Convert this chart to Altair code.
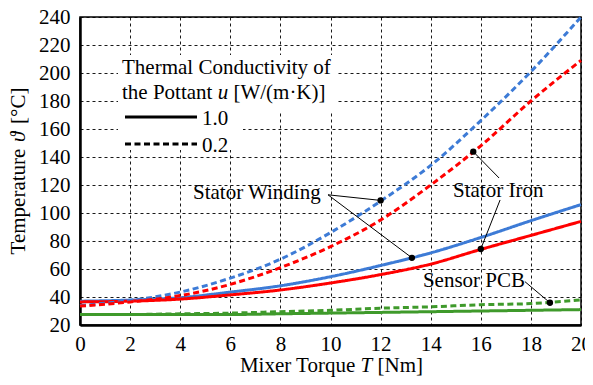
import altair as alt
import pandas as pd

FONT = "Liberation Serif"
FS = 21

torque = [0, 2, 4, 6, 8, 10, 12, 14, 16, 18, 20]
winding_u02 = [34, 37.5, 43.5, 53.5, 67, 86, 108.5, 134, 166, 201, 240]
iron_u02 = [33.5, 36.5, 41, 49, 61, 76, 95, 120, 148, 180, 209]
winding_u10 = [37, 37.8, 39.5, 43.5, 48, 54.5, 62.5, 71.5, 82.5, 94.5, 106]
iron_u10 = [36.5, 37, 38.5, 41.5, 45, 50, 56, 63.5, 74, 84, 94]
pcb_u02 = [27.5, 27.5, 28, 28.5, 29.5, 30.5, 32, 33, 34.5, 35.3, 38]
pcb_u10 = [27.5, 27.5, 27.5, 27.5, 28, 28.5, 29, 29.5, 30, 30.5, 31]

components = ["Stator Winding", "Stator Iron", "Sensor PCB"]
comp_colors = ["#3D7BD6", "#FF0000", "#3F9A2B"]

series = [
    ("Stator Winding", "1.0", winding_u10),
    ("Stator Iron", "1.0", iron_u10),
    ("Sensor PCB", "1.0", pcb_u10),
    ("Stator Winding", "0.2", winding_u02),
    ("Stator Iron", "0.2", iron_u02),
    ("Sensor PCB", "0.2", pcb_u02),
]
rows = []
for comp, u, vals in series:
    for t, v in zip(torque, vals):
        rows.append({"T": t, "temp": v, "comp": comp, "u": u, "series": comp + u})
df = pd.DataFrame(rows)

# annotation points / texts (data coordinates)
dot_T = [12.0, 13.25, 15.70, 16.0, 18.76]
dot_temp = [109, 68, 143.8, 74.3, 35.9]
lead_T = [9.9, 9.9, 16.73, 16.77, 17.76]
lead_temp = [113, 113, 125, 109.3, 51]
ann_text = ["Stator Winding", "Stator Iron", "Sensor PCB"]
ann_T = [4.51, 14.89, 13.69]
ann_temp = [110, 111.6, 46.9]

x_ticks = list(range(0, 21, 2))
y_ticks = list(range(20, 241, 20))

xs = alt.Scale(domain=[0, 20], nice=False)
ys = alt.Scale(domain=[20, 240], nice=False)

x_axis = alt.Axis(values=x_ticks, title=None, grid=True, labelPadding=8,
                  labelFont=FONT, labelFontSize=FS, labelOverlap=False)
y_axis = alt.Axis(values=y_ticks, title=None, grid=True, labelPadding=10,
                  labelFont=FONT, labelFontSize=FS, labelOverlap=False)

W, H = 501, 308


def X(field):
    return alt.X(field, scale=xs, axis=x_axis)


def Y(field):
    return alt.Y(field, scale=ys, axis=y_axis)


lines = alt.Chart(df).mark_line(strokeWidth=3, interpolate="monotone").encode(
    x=X("T:Q"),
    y=Y("temp:Q"),
    color=alt.Color("comp:N", scale=alt.Scale(domain=components, range=comp_colors), legend=None),
    strokeDash=alt.StrokeDash("u:N", scale=alt.Scale(domain=["1.0", "0.2"], range=[[1, 0], [6, 3.5]]),
                              legend=None),
    detail="series:N",
)

dots = alt.Chart(pd.DataFrame({"T": dot_T, "temp": dot_temp})).mark_circle(
    size=40, color="black", opacity=1).encode(x=X("T:Q"), y=Y("temp:Q"))

leads = alt.Chart(pd.DataFrame({"T": lead_T, "temp": lead_temp, "T2": dot_T, "temp2": dot_temp})).mark_rule(
    color="black", strokeWidth=1).encode(x=X("T:Q"), y=Y("temp:Q"), x2="T2:Q", y2="temp2:Q")

ann = alt.Chart(pd.DataFrame({"T": ann_T, "temp": ann_temp, "t": ann_text})).mark_text(
    font=FONT, fontSize=FS, align="left", baseline="alphabetic", color="black").encode(
    x=X("T:Q"), y=Y("temp:Q"), text="t:N")

one = pd.DataFrame({"a": [0]})


def label(text, x, y, italic=False, align="left", angle=0):
    return alt.Chart(pd.DataFrame({"t": [text]})).mark_text(
        font=FONT, fontSize=FS, fontStyle="italic" if italic else "normal",
        align=align, baseline="alphabetic", angle=angle, color="black").encode(
        x=alt.value(x), y=alt.value(y), text="t:N")


def box(x, x2, y, y2):
    return alt.Chart(one).mark_rect(color="white", opacity=1).encode(
        x=alt.value(x), x2=alt.value(x2), y=alt.value(y), y2=alt.value(y2))


legend_layers = [
    box(38, 256, 38, 95),
    box(38, 163, 95, 133),
    label("Thermal Conductivity of", 42, 57),
    label("the Pottant", 42, 82),
    label("u", 137.7, 82, italic=True),
    label("[W/(m\u00b7K)]", 153.4, 82),
    alt.Chart(one).mark_rule(color="black", strokeWidth=3).encode(
        x=alt.value(45), x2=alt.value(117), y=alt.value(100)),
    label("1.0", 122, 108),
    alt.Chart(one).mark_rule(color="black", strokeWidth=3, strokeDash=[6, 3.5]).encode(
        x=alt.value(45), x2=alt.value(117), y=alt.value(127)),
    label("0.2", 122, 135),
]

title_layers = [
    label("Mixer Torque", 275.3, 355, align="right"),
    label("T", 280.5, 355, italic=True),
    label("[Nm]", 297.5, 355),
    label("Temperature", -55, 237.4, angle=270),
    label("\u03d1", -55, 124.9, italic=True, angle=270),
    label("[\u00b0C]", -55, 107, angle=270),
]

chart = alt.layer(lines, *legend_layers, leads, dots, ann, *title_layers).properties(
    width=W, height=H,
    autosize=alt.AutoSizeParams(type="none"),
    padding={"left": 72, "top": 9, "right": 4, "bottom": 52},
).configure_view(stroke="black", strokeWidth=1.5).configure_axis(
    labelFont=FONT, labelFontSize=FS, labelColor="black",
    ticks=False, domain=True, domainColor="black", domainWidth=2.5,
    gridColor="black", gridDash=[3, 3], gridWidth=1, gridOpacity=0.9,
    labelFlush=False,
)

chart.save("out.html", embed_options={"renderer": "svg", "actions": False})
